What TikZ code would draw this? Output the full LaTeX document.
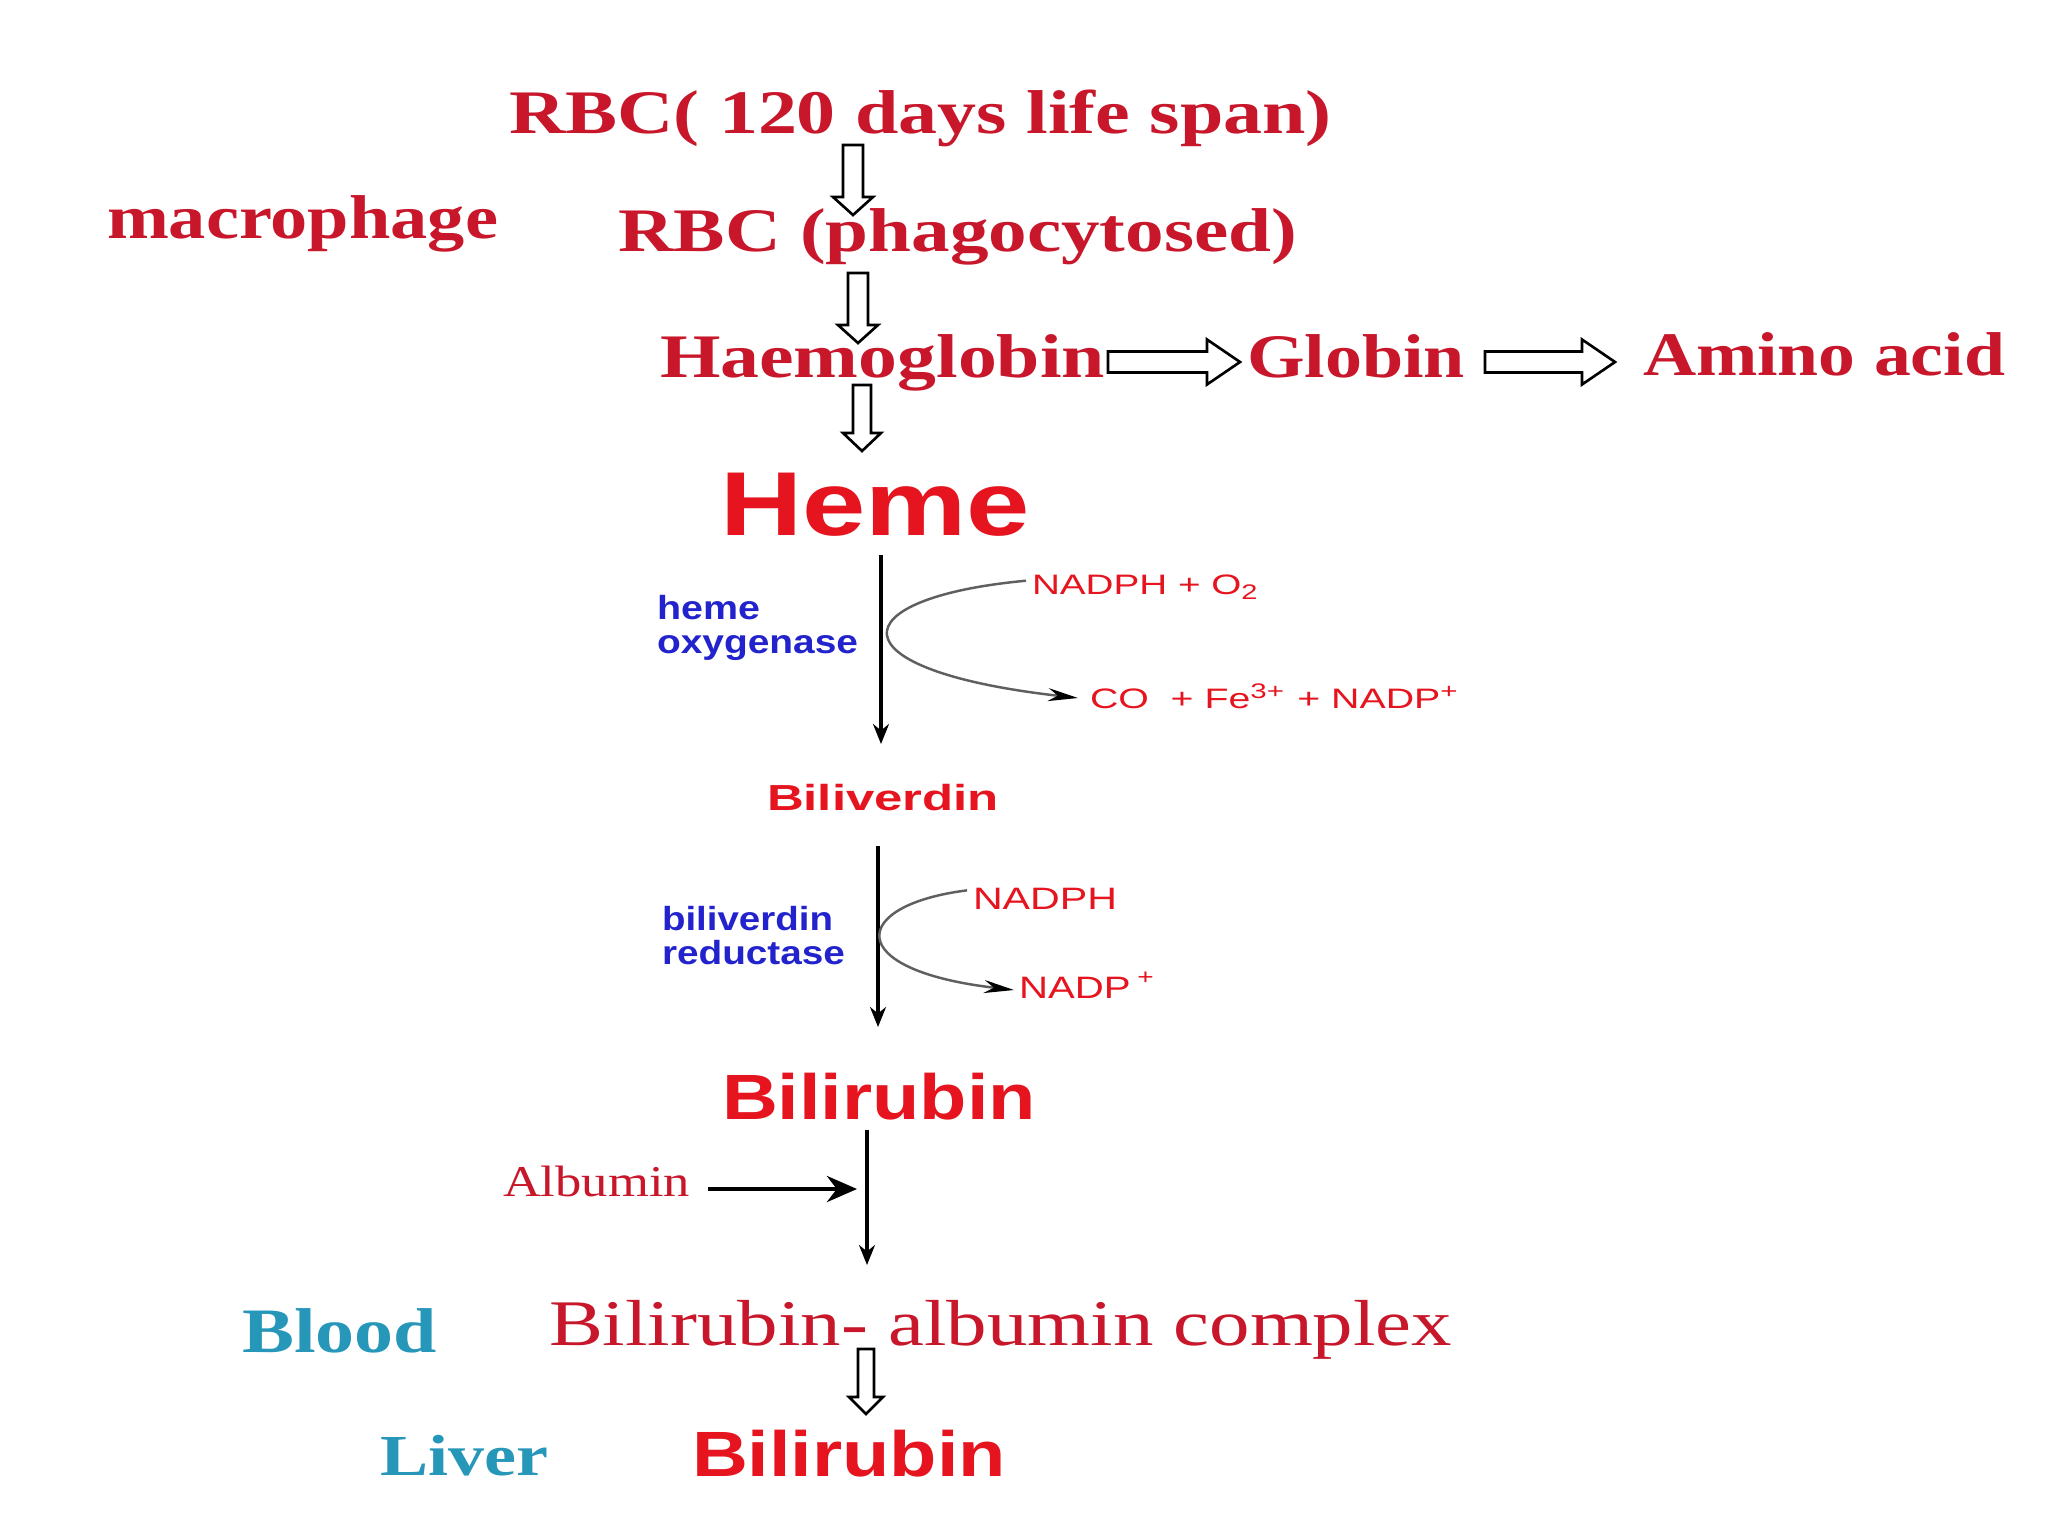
\documentclass[tikz,border=0pt]{standalone}
\usepackage{fontspec}
\setmainfont{Liberation Serif}
\newfontfamily\sansf{Liberation Sans}
\usetikzlibrary{arrows.meta}
\newdimen\pxl \pxl=0.01cm
\newcommand\fitw[2]{\resizebox{#1\pxl}{\height}{#2}}
\definecolor{serred}{RGB}{200,22,42}
\definecolor{sanred}{RGB}{230,20,30}
\definecolor{enzblue}{RGB}{35,35,205}
\definecolor{tealc}{RGB}{38,150,185}
\definecolor{curvegray}{RGB}{95,95,95}
% vertical hollow arrow: x, top, headstart, tip, shafthalf, headhalf
\newcommand\vhollow[6]{%
  \draw[hollow] (#1-#5,#2) -- (#1+#5,#2) -- (#1+#5,#3) -- (#1+#6,#3) -- (#1,#4)
     -- (#1-#6,#3) -- (#1-#5,#3) -- cycle;}
% horizontal hollow arrow: y, start, headstart, tip, shafthalf, headhalf
\newcommand\hhollow[6]{%
  \draw[hollow] (#2,#1-#5) -- (#3,#1-#5) -- (#3,#1-#6) -- (#4,#1) -- (#3,#1+#6)
     -- (#3,#1+#5) -- (#2,#1+#5) -- cycle;}
\begin{document}
\begin{tikzpicture}[x=0.01cm,y=-0.01cm,
  lbl/.style={anchor=base west, inner sep=0pt, outer sep=0pt},
  ser/.style={lbl, text=serred, font={\fontsize{17.6}{20}\selectfont\bfseries}},
  serreg/.style={lbl, text=serred, font={\fontsize{18.5}{20}\selectfont}},
  loc/.style={lbl, text=tealc, font={\fontsize{18}{20}\selectfont\bfseries}},
  big/.style={lbl, text=sanred, font={\fontsize{18.2}{20}\sansf\bfseries}},
  enz/.style={lbl, text=enzblue, font={\fontsize{9.5}{10}\sansf\bfseries}},
  reag/.style={lbl, text=sanred, font={\fontsize{8}{9}\sansf}},
  hollow/.style={draw=black, line width=0.75pt, fill=white, line join=miter},
  thinarr/.style={draw=black, line width=0.9pt, -{Stealth[length=0.2cm, width=0.16cm]}},
  curvearr/.style={draw=curvegray, line width=0.7pt, -{Stealth[length=0.3cm, width=0.13cm, black]}}
]
\fill[white] (0,0) rectangle (2048,1536);
\useasboundingbox (0,0) rectangle (2048,1536);

% texts
\node[ser] (rbc1) at (509,133) {\fitw{823}{RBC( 120 days life span)}};
\node[ser] (macro) at (107,238) {\fitw{391}{macrophage}};
\node[ser] (rbc2) at (618,251) {\fitw{679}{RBC (phagocytosed)}};
\node[ser] (hb) at (660,377) {\fitw{445}{Haemoglobin}};
\node[ser] (globin) at (1247,377) {\fitw{218}{Globin}};
\node[ser] (amino) at (1643,375) {\fitw{362}{Amino acid}};
\node[big, font={\fontsize{25.8}{28}\sansf\bfseries}] (heme) at (720,535) {\fitw{310}{Heme}};
\node[enz] (hox1) at (657,619) {\fitw{103}{heme}};
\node[enz] (hox2) at (657,653) {\fitw{201}{oxygenase}};
\node[reag] (nadph1) at (1032,594) {\fitw{228}{NADPH + O\textsubscript{2}}};
\node[reag] (prod1) at (1090,708) {\fitw{370}{CO~ + Fe\textsuperscript{3+} + NADP\textsuperscript{+}}};
\node[big, font={\fontsize{10.3}{12}\sansf\bfseries}] (biliv) at (767,810) {\fitw{232}{Biliverdin}};
\node[enz] (bvr1) at (662,930) {\fitw{171}{biliverdin}};
\node[enz] (bvr2) at (662,964) {\fitw{183}{reductase}};
\node[reag, font={\fontsize{8.8}{10}\sansf}] (nadph2) at (973,909) {\fitw{144}{NADPH}};
\node[reag, font={\fontsize{8.8}{10}\sansf}] (nadp2) at (1019,998) {\fitw{137}{NADP\,\textsuperscript{+}}};
\node[big] (bilir1) at (722,1119) {\fitw{314}{Bilirubin}};
\node[serreg, font={\fontsize{12.5}{14}\selectfont}] (albumin) at (503,1196) {\fitw{187}{Albumin}};
\node[loc] (blood) at (242,1352) {\fitw{195}{Blood}};
\node[serreg] (complex) at (549,1345) {\fitw{903}{Bilirubin- albumin complex}};
\node[loc, font={\fontsize{16.5}{18}\selectfont\bfseries}] (liver) at (380,1475) {\fitw{168}{Liver}};
\node[big] (bilir2) at (692,1476) {\fitw{314}{Bilirubin}};

% hollow arrows
\vhollow{853}{145}{197}{215}{10}{20}
\vhollow{858}{273}{325}{343}{10}{20}
\vhollow{862}{385}{433}{451}{9}{19}
\hhollow{362}{1108}{1207}{1240}{10.5}{22.5}
\hhollow{362}{1485}{1582}{1615}{10.5}{22.5}
\vhollow{866}{1349}{1397}{1414}{8}{17}

% thin arrows
\coordinate (a1s) at (881,555);
\coordinate (a1e) at (881,744);
\draw[thinarr] (a1s) -- (a1e);
\coordinate (a2s) at (878,846);
\coordinate (a2e) at (878,1027);
\draw[thinarr] (a2s) -- (a2e);
\coordinate (a3s) at (867,1130);
\coordinate (a3e) at (867,1265);
\draw[thinarr] (a3s) -- (a3e);
\coordinate (alb) at (708,1189);
\draw[draw=black, line width=1.3pt, -{Stealth[length=0.3cm, width=0.26cm]}] (alb) -- (857,1189);

% curved side arrows
\draw[curvearr] (nadph1.west) ++(-6,-6) .. controls (840,598) and (830,670) .. (1078,698);
\draw[curvearr] (nadph2.west) ++(-6,-8) .. controls (850,905) and (841,970) .. (1014,990);
\end{tikzpicture}
\end{document}
